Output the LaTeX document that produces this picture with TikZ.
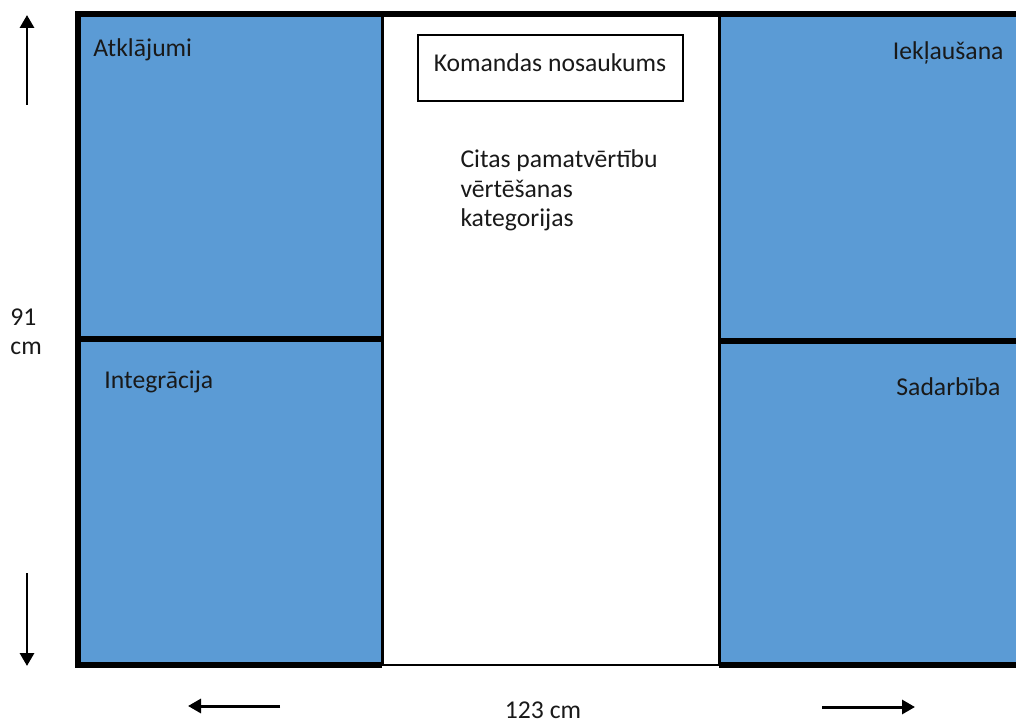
\documentclass[tikz,border=0pt]{standalone}
\usepackage{fontspec}
\setmainfont{Carlito}
\usetikzlibrary{arrows.meta,positioning}
\definecolor{panelblue}{HTML}{5B9BD5}
\tikzset{
  every picture/.style={line width=1.7pt},
  sPanel/.style={fill=panelblue},
  sFrame/.style={line width=3.4pt},
  sEdge/.style={line width=1.7pt},
  sBox/.style={line width=0.9pt, fill=white},
  sLabel/.style={inner sep=0pt, text=black!90,
                 font=\fontsize{14.6}{17}\selectfont},
  sDim/.style={line width=1.7pt, -{Triangle[length=0.26cm, width=0.28cm]}},
}

\begin{document}
\begin{tikzpicture}[x=0.02cm, y=-0.02cm]
\useasboundingbox (0,0) rectangle (1016,722);
\clip (0,0) rectangle (1016,722);
% blue panels
\fill[sPanel] (78,14) rectangle (382,665);
\fill[sPanel] (719,14) rectangle (1030,665);
% frame and dividers
\draw[sEdge] (382,14) -- (382,665);
\draw[sEdge] (719,14) -- (719,665);
\draw[sFrame] (1030,14) -- (78,14) -- (78,665) -- (382,665);
\draw[sEdge] (382,665) -- (719,665);
\draw[sFrame] (719,665) -- (1030,665);
\draw[sFrame] (78,339) -- (382,339);
\draw[sFrame] (719,341) -- (1030,341);
% team name box
\draw[sBox] (418,35) rectangle (683,101);
\node[sLabel, anchor=base] (team) at (550,72) {Komandas nosaukums};
% base of a multi-line node is its last line
\node[sLabel, anchor=base west, align=left] (other) at (459,227)
  {Citas pamatvērtību\\vērtēšanas\\kategorijas};
% panel titles
\node[sLabel, anchor=base west] (atkl) at (92,57) {Atklājumi};
\node[sLabel, anchor=base west] (integ) at (103,388) {Integrācija};
\node[sLabel, anchor=base east] (iekl) at (1005,60) {Iekļaušana};
\node[sLabel, anchor=base east] (sadarb) at (1002,395) {Sadarbība};
% dimensions
\node[sLabel, anchor=base west, align=left] (hgt) at (9,355) {91\\cm};
\node[sLabel, anchor=base] (wdt) at (543,718) {123 cm};
\coordinate (hUpA) at (27,105);
\coordinate (hUpB) at (27,15);
\coordinate (hDnA) at (27,573);
\coordinate (hDnB) at (27,666);
\coordinate (wLtA) at (280,706);
\coordinate (wLtB) at (188,706);
\coordinate (wRtA) at (822,707);
\coordinate (wRtB) at (915,707);
\draw[sDim] (hUpA) -- (hUpB);
\draw[sDim] (hDnA) -- (hDnB);
\draw[sDim] (wLtA) -- (wLtB);
\draw[sDim] (wRtA) -- (wRtB);
\end{tikzpicture}
\end{document}
